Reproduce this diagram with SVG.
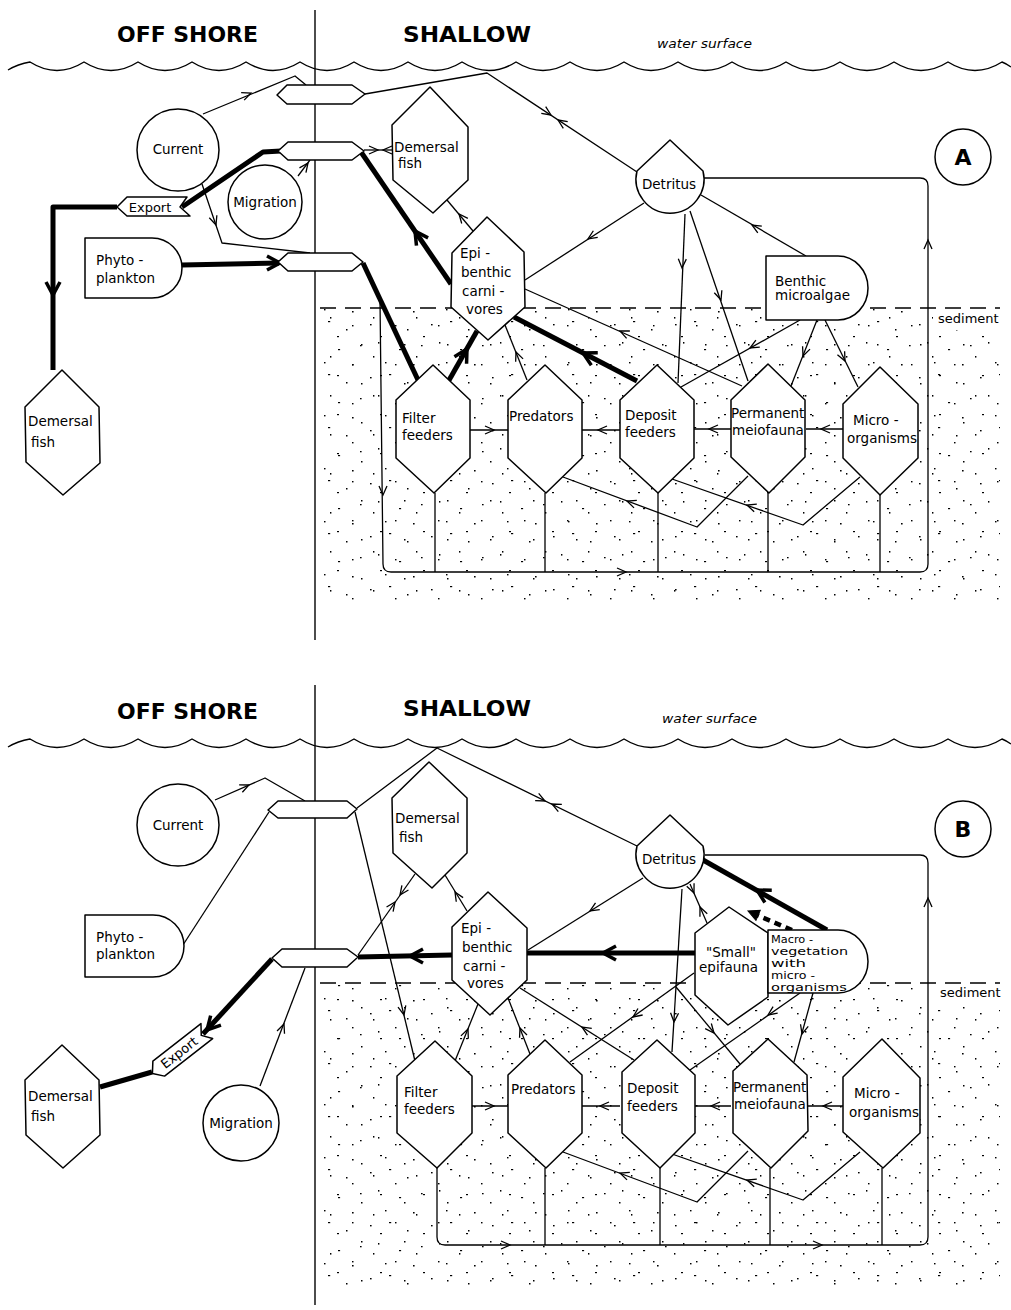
<svg xmlns="http://www.w3.org/2000/svg" xmlns:xlink="http://www.w3.org/1999/xlink" width="1011" height="1310" viewBox="0 0 1011 1310">
<style>
.n{fill:#fff;stroke:#000;stroke-width:1.5;stroke-linejoin:round}
.l{fill:none;stroke:#000;stroke-width:1.3;stroke-linejoin:round}
.t{fill:none;stroke:#000;stroke-width:5;stroke-linejoin:round}
.td{fill:none;stroke:#000;stroke-width:4.5;stroke-dasharray:7 5}
.ah{fill:none;stroke:#000;stroke-width:1.3;stroke-linejoin:miter}
.aht{fill:none;stroke:#000;stroke-width:3.5;stroke-linejoin:miter}
.ahf{fill:#000;stroke:#000;stroke-width:1}
.lab{font-family:"DejaVu Sans",sans-serif;font-size:13.5px;fill:#000}
.mac{font-family:"DejaVu Sans",sans-serif;font-size:10.3px;fill:#000}
.ttl{font-family:"DejaVu Sans",sans-serif;font-weight:bold;font-size:21px;fill:#000}
.ws{font-family:"DejaVu Sans",sans-serif;font-style:italic;font-size:12px;fill:#000}
.big{font-family:"DejaVu Sans",sans-serif;font-weight:bold;font-size:22px;fill:#000}
.dash{fill:none;stroke:#000;stroke-width:1.4;stroke-dasharray:16 9}
.frame{fill:none;stroke:#000;stroke-width:1.4}
</style>
<defs>
<path id="a" class="ah" d="M-9,-4 L0,0 L-9,4"/>
<path id="at" class="aht" d="M-13,-7 L0,0 L-13,7"/>
<path id="af" class="ahf" d="M-11,-5.5 L0,0 L-11,5.5 Z"/>
<path id="wave" class="frame" d="M8,70 Q18,64 30,62 Q57,79 84,62 Q111,79 138,62 Q165,79 192,62 Q219,79 246,62 Q273,79 300,62 Q327,79 354,62 Q381,79 408,62 Q435,79 462,62 Q489,79 516,62 Q543,79 570,62 Q597,79 624,62 Q651,79 678,62 Q705,79 732,62 Q759,79 786,62 Q813,79 840,62 Q867,79 894,62 Q921,79 948,62 Q975,79 1002,62 Q1007,64 1011,67"/>
<pattern id="p1" width="61" height="53" patternUnits="userSpaceOnUse">
<rect x="4" y="6" width="1.6" height="1.4"/><rect x="23" y="3" width="2.2" height="1.2"/><rect x="41" y="11" width="1.5" height="1.5"/><rect x="55" y="27" width="1.6" height="1.3"/><rect x="12" y="24" width="1.4" height="1.6"/><rect x="33" y="31" width="2.1" height="1.2"/><rect x="19" y="44" width="1.5" height="1.4"/><rect x="47" y="46" width="1.6" height="1.5"/>
</pattern>
<pattern id="p2" width="43" height="39" patternUnits="userSpaceOnUse">
<rect x="8" y="13" width="1.5" height="1.4"/><rect x="29" y="5" width="1.4" height="1.6"/><rect x="36" y="24" width="2" height="1.2"/><rect x="17" y="32" width="1.5" height="1.5"/>
</pattern>
</defs>
<rect width="1011" height="1310" fill="#fff"/>

<g id="background">
<path fill="url(#p1)" d="M321,309 H933 V330 H1000 V602 H321 Z"/>
<path fill="url(#p2)" d="M321,309 H933 V330 H1000 V602 H321 Z"/>
<path fill="url(#p1)" d="M321,984 H933 V1003 H1000 V1292 H321 Z"/>
<path fill="url(#p2)" d="M321,984 H933 V1003 H1000 V1292 H321 Z"/>
<use href="#wave"/>
<use href="#wave" transform="translate(0,677)"/>
<line class="frame" x1="315" y1="10" x2="315" y2="640"/>
<line class="frame" x1="315" y1="685" x2="315" y2="1305"/>
<line class="dash" x1="320" y1="308" x2="1000" y2="308"/>
<line class="dash" x1="320" y1="983" x2="1000" y2="983"/>
<text class="ttl" x="117" y="42" textLength="141" lengthAdjust="spacingAndGlyphs">OFF SHORE</text>
<text class="ttl" x="403" y="42" textLength="128" lengthAdjust="spacingAndGlyphs">SHALLOW</text>
<text class="ws" x="657" y="48" textLength="95" lengthAdjust="spacingAndGlyphs">water surface</text>
<text class="lab" x="938" y="323" style="font-size:13px">sediment</text>
<text class="ttl" x="117" y="719" textLength="141" lengthAdjust="spacingAndGlyphs">OFF SHORE</text>
<text class="ttl" x="403" y="716" textLength="128" lengthAdjust="spacingAndGlyphs">SHALLOW</text>
<text class="ws" x="662" y="723" textLength="95" lengthAdjust="spacingAndGlyphs">water surface</text>
<text class="lab" x="940" y="997" style="font-size:13px">sediment</text>
</g>

<g id="connectors">
<!-- Panel A thin -->
<path class="l" d="M203,114 L295,76 L306,85"/><use href="#a" transform="translate(251,93) rotate(-22)"/>
<path class="l" d="M365,94 L487,73 L637,172"/><use href="#a" transform="translate(551,115) rotate(33.4)"/><use href="#a" transform="translate(558,120) rotate(213.4)"/>
<path class="l" d="M364,150 H392"/><use href="#a" transform="translate(378,150) rotate(0)"/><use href="#a" transform="translate(383,150) rotate(180)"/>
<path class="l" d="M298,176 L310,160"/><use href="#a" transform="translate(308,163) rotate(-54)"/>
<path class="l" d="M202,184 L222,243 L310,253"/><use href="#a" transform="translate(216,225) rotate(71)"/>
<path class="l" d="M380,300 L383,564 Q383,572 391,572 H920 Q928,572 928,564 V186 Q928,178 920,178 H704"/>
<use href="#a" transform="translate(383,495) rotate(90)"/><use href="#a" transform="translate(626,572) rotate(0)"/><use href="#a" transform="translate(928,240) rotate(-90)"/>
<path class="l" d="M435,493 V572 M545,493 V572 M658,493 V572 M768,493 V572 M880,495 V572"/>
<path class="l" d="M527,380 L505,325"/><use href="#a" transform="translate(516,352) rotate(-112)"/>
<path class="l" d="M473,231 L447,200"/><use href="#a" transform="translate(459,214) rotate(-130)"/>
<path class="l" d="M644,203 L525,280"/><use href="#a" transform="translate(588,239) rotate(147)"/>
<path class="l" d="M742,386 L525,289"/><use href="#a" transform="translate(620,331) rotate(-156)"/>
<path class="l" d="M685,214 L678,383"/><use href="#a" transform="translate(682,268) rotate(92)"/>
<path class="l" d="M690,211 L748,381"/><use href="#a" transform="translate(721,300) rotate(71)"/>
<path class="l" d="M806,256 L701,195"/><use href="#a" transform="translate(752,225) rotate(-150)"/>
<path class="l" d="M800,320 L681,387"/><use href="#a" transform="translate(750,348) rotate(150.6)"/>
<path class="l" d="M817,320 L791,386"/><use href="#a" transform="translate(803,356) rotate(111.5)"/>
<path class="l" d="M825,320 L858,387"/><use href="#a" transform="translate(845,361) rotate(63.8)"/>
<path class="l" d="M470,430 H508"/><use href="#a" transform="translate(494,430) rotate(0)"/>
<path class="l" d="M620,430 H582"/><use href="#a" transform="translate(598,430) rotate(180)"/>
<path class="l" d="M731,429 H694"/><use href="#a" transform="translate(709,429) rotate(180)"/>
<path class="l" d="M843,429 H806"/><use href="#a" transform="translate(821,429) rotate(180)"/>
<path class="l" d="M748,476 L697,527 L563,477"/><use href="#a" transform="translate(627,501) rotate(200.5)"/>
<path class="l" d="M860,477 L803,525 L672,479"/><use href="#a" transform="translate(747,505) rotate(199.4)"/>
<!-- Panel A thick -->
<path class="t" d="M451,284 L361,152"/><use href="#at" transform="translate(415,231) rotate(-124)"/>
<path class="t" d="M281,151 L263,152 L182,207"/>
<path class="t" d="M117,207 H53 V370"/><use href="#at" transform="translate(53,295) rotate(90)"/>
<path class="t" d="M182,265 L279,263"/><use href="#at" transform="translate(280,263) rotate(0)"/>
<path class="t" d="M363,263 L418,380"/>
<path class="t" d="M448,382 L477,331"/><use href="#at" transform="translate(467,349) rotate(-60)"/>
<path class="t" d="M637,381 L514,317"/><use href="#at" transform="translate(583,353) rotate(-152.5)"/>

<!-- Panel B thin -->
<path class="l" d="M215,800 L265,778 L305,801"/><use href="#a" transform="translate(249,785) rotate(-23.7)"/>
<path class="l" d="M183,945 L269,812"/>
<path class="l" d="M357,808 L437,748 L637,846"/><use href="#a" transform="translate(545,801) rotate(26.1)"/><use href="#a" transform="translate(552,804) rotate(206.1)"/>
<path class="l" d="M355,812 L415,1061"/><use href="#a" transform="translate(404,1015) rotate(76.5)"/>
<path class="l" d="M260,1086 L305,968"/><use href="#a" transform="translate(284,1024) rotate(-69)"/>
<path class="l" d="M358,955 L415,874"/><use href="#a" transform="translate(395,902) rotate(-54.9)"/><use href="#a" transform="translate(400,895) rotate(125.1)"/>
<path class="l" d="M467,911 L445,875"/><use href="#a" transform="translate(455,892) rotate(-121.4)"/>
<path class="l" d="M643,878 L528,950"/><use href="#a" transform="translate(590,911) rotate(148)"/>
<path class="l" d="M690,884 L707,923"/><use href="#a" transform="translate(694,893) rotate(66.4)"/><use href="#a" transform="translate(700,907) rotate(-113.6)"/>
<path class="l" d="M682,889 L672,1052"/><use href="#a" transform="translate(674,1022) rotate(93.5)"/>
<path class="l" d="M676,987 L740,1064"/><use href="#a" transform="translate(714,1033) rotate(50.3)"/>
<path class="l" d="M694,973 L570,1062"/><use href="#a" transform="translate(633,1017) rotate(144.3)"/>
<path class="l" d="M634,1060 L520,988"/><use href="#a" transform="translate(582,1027) rotate(-147.7)"/>
<path class="l" d="M800,993 L690,1070"/><use href="#a" transform="translate(768,1015) rotate(145)"/>
<path class="l" d="M813,993 L794,1062"/><use href="#a" transform="translate(802,1034) rotate(105.4)"/>
<path class="l" d="M455,1061 L478,1004"/><use href="#a" transform="translate(468,1029) rotate(-68)"/>
<path class="l" d="M530,1054 L508,998"/><use href="#a" transform="translate(520,1028) rotate(-111.4)"/>
<path class="l" d="M472,1106 H508"/><use href="#a" transform="translate(494,1106) rotate(0)"/>
<path class="l" d="M620,1106 H582"/><use href="#a" transform="translate(600,1106) rotate(180)"/>
<path class="l" d="M731,1106 H694"/><use href="#a" transform="translate(711,1106) rotate(180)"/>
<path class="l" d="M843,1106 H806"/><use href="#a" transform="translate(823,1106) rotate(180)"/>
<path class="l" d="M748,1151 L697,1202 L563,1152"/><use href="#a" transform="translate(620,1173) rotate(200.5)"/>
<path class="l" d="M860,1152 L803,1200 L672,1154"/><use href="#a" transform="translate(747,1180) rotate(199.4)"/>
<path class="l" d="M437,1168 V1237 Q437,1245 445,1245 H920 Q928,1245 928,1237 V863 Q928,855 920,855 H705"/>
<use href="#a" transform="translate(510,1245) rotate(0)"/><use href="#a" transform="translate(822,1245) rotate(0)"/><use href="#a" transform="translate(928,898) rotate(-90)"/>
<path class="l" d="M545,1168 V1245 M660,1168 V1245 M770,1168 V1245 M882,1168 V1245"/>
<!-- Panel B thick -->
<path class="t" d="M695,953 H527"/><use href="#at" transform="translate(603,953) rotate(180)"/>
<path class="t" d="M452,955 L358,957"/><use href="#at" transform="translate(410,956) rotate(180)"/>
<path class="t" d="M272,959 L203,1034"/><use href="#at" transform="translate(207,1030) rotate(132.6)"/>
<path class="t" d="M152,1072 L100,1087"/>
<path class="t" d="M827,930 L703,860"/><use href="#at" transform="translate(757,890) rotate(-150.6)"/>
<path class="td" d="M792,930 L752,913"/><use href="#af" transform="translate(748,911) rotate(-157)"/>
</g>

<g id="nodes-A">
<g id="A-current"><circle class="n" cx="178" cy="150" r="41"/><text class="lab" x="178" y="154" text-anchor="middle">Current</text></g>
<g id="A-migration"><circle class="n" cx="265" cy="202" r="37"/><text class="lab" x="265" y="207" text-anchor="middle">Migration</text></g>
<g id="A-export"><path class="n" d="M127,197 H187 L180,207 L190,216 H127 L117,207 Z"/><text class="lab" x="150" y="212" text-anchor="middle" style="font-size:13px">Export</text></g>
<g id="A-phyto"><path class="n" d="M85,238 H152 A30,30 0 0 1 152,298 H85 Z"/><text class="lab" x="96" y="265">Phyto -</text><text class="lab" x="96" y="283">plankton</text></g>
<g id="A-demersal-off"><path class="n" d="M62,370 L99,407 L100,463 L63,495 L26,462 L25,407 Z"/><text class="lab" x="28" y="426">Demersal</text><text class="lab" x="31" y="447">fish</text></g>
<g id="A-boundary-1"><path class="n" d="M287,85 H352 L365,94 L352,104 H287 L277,95 Z"/></g>
<g id="A-boundary-2"><path class="n" d="M288,142 H352 L364,151 L352,160 H288 L278,151 Z"/></g>
<g id="A-boundary-3"><path class="n" d="M288,253 H352 L363,262 L352,271 H288 L278,262 Z"/></g>
<g id="A-demersal"><path class="n" d="M430,87 L468,127 L468,180 L433,213 L393,180 L392,125 Z"/><text class="lab" x="394" y="152">Demersal</text><text class="lab" x="398" y="168">fish</text></g>
<g id="A-epi"><path class="n" d="M487,217 L524,252 L525,307 L488,340 L451,307 L452,253 Z"/><text class="lab" x="460" y="258">Epi -</text><text class="lab" x="461" y="277">benthic</text><text class="lab" x="462" y="296">carni -</text><text class="lab" x="466" y="314">vores</text></g>
<g id="A-detritus"><path class="n" d="M670,140 L703,171 A34,34 0 1 1 637,171 Z"/><text class="lab" x="669" y="189" text-anchor="middle">Detritus</text></g>
<g id="A-benthic"><path class="n" d="M766,256 H838 A30,32 0 0 1 838,320 H766 Z"/><text class="lab" x="775" y="286">Benthic</text><text class="lab" x="775" y="300">microalgae</text></g>
<g id="A-filter"><path class="n" d="M433,365 L470,400 L470,458 L434,493 L396,458 L396,400 Z"/><text class="lab" x="402" y="423">Filter</text><text class="lab" x="402" y="440">feeders</text></g>
<g id="A-predators"><path class="n" d="M545,365 L582,400 L582,458 L546,493 L508,458 L508,400 Z"/><text class="lab" x="509" y="421">Predators</text></g>
<g id="A-deposit"><path class="n" d="M657,365 L694,400 L694,458 L658,493 L620,458 L620,400 Z"/><text class="lab" x="625" y="420">Deposit</text><text class="lab" x="625" y="437">feeders</text></g>
<g id="A-meiofauna"><path class="n" d="M768,364 L805,400 L805,457 L769,493 L731,457 L731,400 Z"/><text class="lab" x="731" y="418">Permanent</text><text class="lab" x="732" y="435">meiofauna</text></g>
<g id="A-micro"><path class="n" d="M880,367 L918,404 L918,458 L880,495 L843,458 L843,404 Z"/><text class="lab" x="853" y="425">Micro -</text><text class="lab" x="847" y="443">organisms</text></g>
<g id="A-label"><circle class="n" cx="963" cy="157" r="28"/><text class="big" x="963" y="165" text-anchor="middle">A</text></g>
</g>

<g id="nodes-B">
<g id="B-current"><circle class="n" cx="178" cy="825" r="41"/><text class="lab" x="178" y="830" text-anchor="middle">Current</text></g>
<g id="B-migration"><circle class="n" cx="241" cy="1123" r="38"/><text class="lab" x="241" y="1128" text-anchor="middle">Migration</text></g>
<g id="B-export" transform="translate(180,1052) rotate(-38)"><path class="n" d="M-27,-9.5 H34 L27,0 L34,9.5 H-27 L-35,0 Z"/><text class="lab" x="-1" y="4.5" text-anchor="middle" style="font-size:13px">Export</text></g>
<g id="B-phyto"><path class="n" d="M85,915 H153 A31,31 0 0 1 153,977 H85 Z"/><text class="lab" x="96" y="942">Phyto -</text><text class="lab" x="96" y="959">plankton</text></g>
<g id="B-demersal-off"><path class="n" d="M62,1045 L99,1080 L100,1135 L63,1168 L26,1135 L25,1080 Z"/><text class="lab" x="28" y="1101">Demersal</text><text class="lab" x="31" y="1121">fish</text></g>
<g id="B-boundary-1"><path class="n" d="M278,801 H347 L357,809 L347,818 H278 L268,810 Z"/></g>
<g id="B-boundary-2"><path class="n" d="M282,949 H347 L358,957 L347,967 H282 L272,958 Z"/></g>
<g id="B-demersal"><path class="n" d="M429,762 L467,798 L467,853 L432,888 L393,853 L392,798 Z"/><text class="lab" x="395" y="823">Demersal</text><text class="lab" x="399" y="842">fish</text></g>
<g id="B-epi"><path class="n" d="M488,892 L527,928 L527,980 L490,1015 L452,980 L452,927 Z"/><text class="lab" x="461" y="933">Epi -</text><text class="lab" x="462" y="952">benthic</text><text class="lab" x="463" y="971">carni -</text><text class="lab" x="467" y="988">vores</text></g>
<g id="B-detritus"><path class="n" d="M670,815 L703,846 A34,34 0 1 1 637,846 Z"/><text class="lab" x="669" y="864" text-anchor="middle">Detritus</text></g>
<g id="B-small-epifauna"><path class="n" d="M729,907 L768,933 L768,997 L728,1025 L695,995 L695,933 Z"/><text class="lab" x="706" y="957">"Small"</text><text class="lab" x="699" y="972">epifauna</text></g>
<g id="B-macro"><path class="n" d="M768,930 H838 A30,31.5 0 0 1 838,993 H768 Z"/>
<text class="mac" x="771" y="943" textLength="42" lengthAdjust="spacingAndGlyphs">Macro -</text>
<text class="mac" x="771" y="955" textLength="77" lengthAdjust="spacingAndGlyphs">vegetation</text>
<text class="mac" x="771" y="967" textLength="35" lengthAdjust="spacingAndGlyphs">with</text>
<text class="mac" x="771" y="979" textLength="44" lengthAdjust="spacingAndGlyphs">micro -</text>
<text class="mac" x="771" y="991" textLength="76" lengthAdjust="spacingAndGlyphs">organisms</text></g>
<g id="B-filter"><path class="n" d="M435,1041 L472,1076 L472,1133 L437,1168 L397,1133 L397,1076 Z"/><text class="lab" x="404" y="1097">Filter</text><text class="lab" x="404" y="1114">feeders</text></g>
<g id="B-predators"><path class="n" d="M545,1040 L582,1075 L582,1133 L546,1168 L508,1133 L508,1075 Z"/><text class="lab" x="511" y="1094">Predators</text></g>
<g id="B-deposit"><path class="n" d="M657,1040 L695,1075 L695,1133 L660,1168 L622,1133 L622,1072 Z"/><text class="lab" x="627" y="1093">Deposit</text><text class="lab" x="627" y="1111">feeders</text></g>
<g id="B-meiofauna"><path class="n" d="M768,1039 L807,1075 L808,1131 L771,1168 L733,1133 L733,1071 Z"/><text class="lab" x="733" y="1092">Permanent</text><text class="lab" x="734" y="1109">meiofauna</text></g>
<g id="B-micro"><path class="n" d="M882,1039 L920,1078 L920,1133 L883,1168 L843,1132 L843,1077 Z"/><text class="lab" x="854" y="1098">Micro -</text><text class="lab" x="849" y="1117">organisms</text></g>
<g id="B-label"><circle class="n" cx="963" cy="829" r="28"/><text class="big" x="963" y="837" text-anchor="middle">B</text></g>
</g>
</svg>
